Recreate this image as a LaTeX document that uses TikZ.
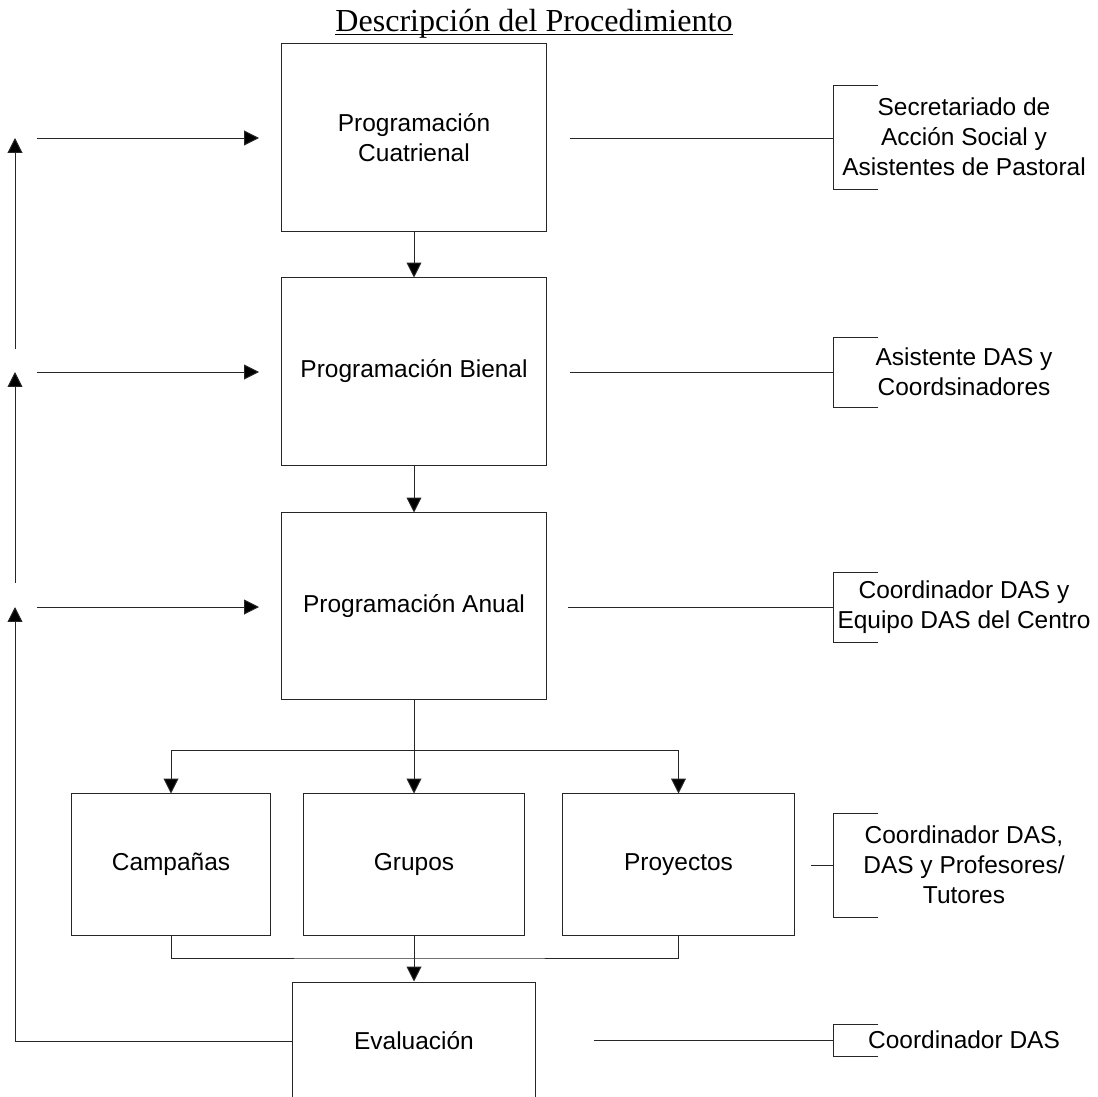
\documentclass[tikz,border=0pt]{standalone}
\usepackage{fontspec}
\setmainfont{Liberation Sans}
\newfontfamily\titlefont{Liberation Serif}
\usetikzlibrary{arrows.meta}
\colorlet{colLinea}{black!85}

\tikzset{
  caja/.style={draw=colLinea, line width=0.7pt, align=center, inner sep=0pt,
    font=\fontsize{17.4}{21.3}\selectfont},
  resp/.style={align=center, inner sep=0pt, font=\fontsize{17.4}{21.3}\selectfont},
  linea/.style={draw=colLinea, line width=0.7pt},
  flecha/.style={linea, -{Triangle[length=10.5pt,width=10.5pt,fill=black]}},
}

\begin{document}
\begin{tikzpicture}[x=0.025cm,y=-0.025cm]
  \useasboundingbox (0,0) rectangle (1098,1097);
  \clip (0,0) rectangle (1098,1097);

 % ================================================================
 % Procedimiento
 % ================================================================
        % title
        \node [font=\titlefont\fontsize{22.8}{27}\selectfont, anchor=base, inner sep=0pt] (titulo) at (534,32) {Descripción del Procedimiento};
        \draw[line width=0.8pt] ([yshift=-0.07cm]titulo.base west) -- ([yshift=-0.07cm]titulo.base east);

        % programaciones
        \node [caja, minimum width=6.6cm, minimum height=4.675cm] (cuat) at (414,137.5) {Programación\\Cuatrienal};
        \node [caja, minimum width=6.6cm, minimum height=4.675cm] (bien) at (414,371.5) {Programación Bienal};
        \node [caja, minimum width=6.6cm, minimum height=4.65cm] (anual) at (414,606) {Programación Anual};

        % actividades
        \node [caja, minimum width=4.95cm, minimum height=3.525cm] (camp) at (171,864.5) {Campañas};
        \node [caja, minimum width=5.525cm, minimum height=3.525cm] (grup) at (414,864.5) {Grupos};
        \node [caja, minimum width=5.775cm, minimum height=3.525cm] (proy) at (678.5,864.5) {Proyectos};

        % evaluacion
        \node [caja, minimum width=6.05cm, minimum height=2.95cm] (eval) at (414,1041) {Evaluación};

        % vertical links
        \draw[flecha] (cuat) -- (bien);
        \draw[flecha] (bien) -- (anual);
        \coordinate (split) at (414,750);
        \draw[linea] (anual) -- (split);
        \draw[flecha] (split) -| (camp);
        \draw[flecha] (split) -- (grup);
        \draw[flecha] (split) -| (proy);
        \coordinate (join) at (414,958);
        \draw[linea] (camp) |- (join) -| (proy);
        \draw[flecha] (grup) -- (eval);

 % ----------------------------------------
 % retroalimentacion
 % ----------------------------------------
        \coordinate (fb) at (15,1041);
        \coordinate (up1) at (15,607);
        \coordinate (lo2) at (15,583);
        \coordinate (up2) at (15,372);
        \coordinate (lo3) at (15,349);
        \coordinate (up3) at (15,138);
        \draw[flecha] (eval) -- (fb) -- (up1);
        \draw[flecha] (lo2) -- (up2);
        \draw[flecha] (lo3) -- (up3);

        % horizontal links
        \coordinate (in1) at (37,138);
        \coordinate (tip1) at (259,138);
        \coordinate (in2) at (37,372);
        \coordinate (tip2) at (259,372);
        \coordinate (in3) at (37,607);
        \coordinate (tip3) at (259,607);
        \draw[flecha] (in1) -- (tip1);
        \draw[flecha] (in2) -- (tip2);
        \draw[flecha] (in3) -- (tip3);

 % ----------------------------------------
 % responsables
 % ----------------------------------------
        \coordinate (d1) at (570,138);
        \coordinate (b1) at (833,138);
        \draw[linea] (d1) -- (b1);
        \draw[linea] (878,85) -| (833,189) -- (878,189);
        \node [resp] (r1) at (964,137) {Secretariado de\\Acción Social y\\Asistentes de Pastoral};

        \coordinate (d2) at (570,372);
        \coordinate (b2) at (833,372);
        \draw[linea] (d2) -- (b2);
        \draw[linea] (878,337) -| (833,407) -- (878,407);
        \node [resp] (r2) at (964,372) {Asistente DAS y\\Coordsinadores};

        \coordinate (d3) at (568,607);
        \coordinate (b3) at (833,607);
        \draw[linea] (d3) -- (b3);
        \draw[linea] (878,572) -| (833,642) -- (878,642);
        \node [resp] (r3) at (964,607) {Coordinador DAS y\\Equipo DAS del Centro};

        \coordinate (d4) at (811,865);
        \coordinate (b4) at (833,865);
        \draw[linea] (d4) -- (b4);
        \draw[linea] (878,813) -| (833,917) -- (878,917);
        \node [resp] (r4) at (964,865) {Coordinador DAS,\\DAS y Profesores/\\Tutores};

        \coordinate (d5) at (594,1040);
        \coordinate (b5) at (833,1040);
        \draw[linea] (d5) -- (b5);
        \draw[linea] (878,1024) -| (833,1056) -- (878,1056);
        \node [resp] (r5) at (964,1040) {Coordinador DAS};

\end{tikzpicture}
\end{document}
